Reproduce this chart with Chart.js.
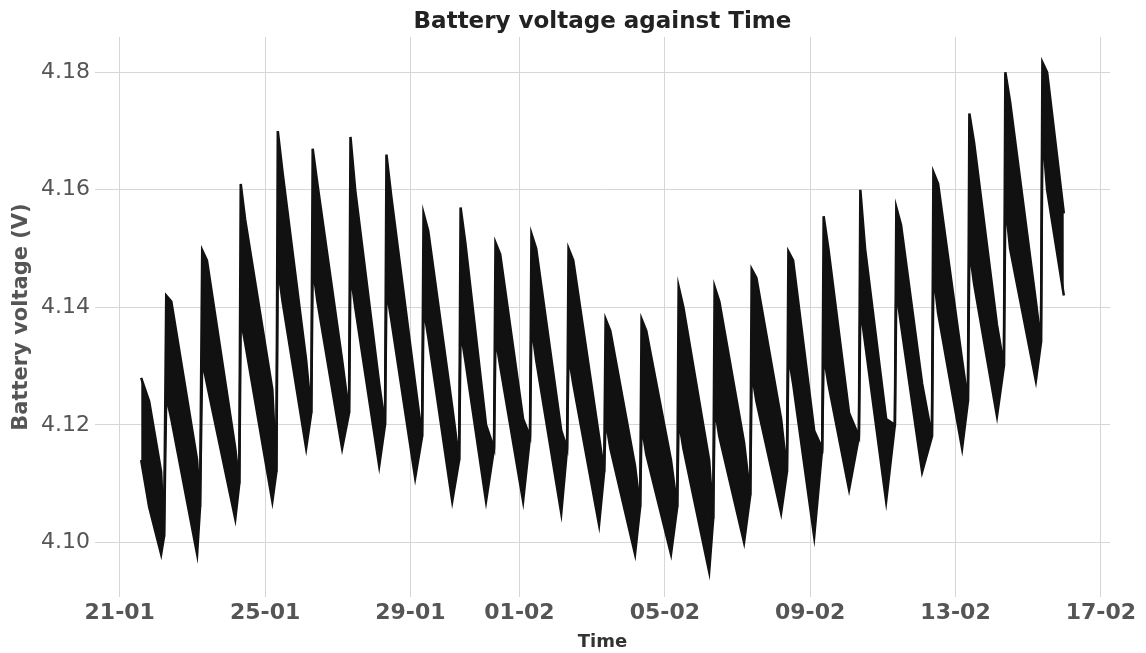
<!DOCTYPE html>
<html>
<head>
<meta charset="utf-8">
<script src="https://cdn.jsdelivr.net/npm/chart.js@4.4.0/dist/chart.umd.min.js"></script>
<style>
  html, body { margin: 0; padding: 0; background: #fff; }
</style>
</head>
<body>
<canvas id="chart" width="1146" height="653"></canvas>
<script>
// time axis in day-of-year: 21 = 21 Jan 00:00, 32 = 01 Feb 00:00
// each daily cycle: jump start, top of jump, after jump, end of decay
const times = [
    21.59, 21.81, 22.14,
    22.22, 22.28, 22.42, 23.13,
    23.21, 23.27, 23.40, 24.18,
    24.29, 24.33, 24.45, 25.20,
    25.31, 25.35, 25.48, 26.13,
    26.27, 26.31, 26.44, 27.12,
    27.31, 27.35, 27.48, 28.14,
    28.30, 28.34, 28.47, 29.13,
    29.32, 29.36, 29.49, 30.15,
    30.34, 30.38, 30.51, 31.08,
    31.30, 31.34, 31.47, 32.10,
    32.29, 32.33, 32.46, 33.15,
    33.31, 33.35, 33.48, 34.19,
    34.33, 34.37, 34.50, 35.18,
    35.32, 35.36, 35.49, 36.17,
    36.34, 36.38, 36.51, 37.22,
    37.33, 37.37, 37.50, 38.18,
    38.35, 38.39, 38.52, 39.20,
    39.36, 39.40, 39.53, 40.11,
    40.33, 40.37, 40.50, 41.07,
    41.34, 41.38, 41.51, 42.09,
    42.33, 42.37, 42.50, 43.08,
    43.35, 43.39, 43.52, 44.18,
    44.34, 44.38, 44.51, 45.14,
    45.33, 45.37, 45.50, 46.21,
    46.35, 46.39, 46.52, 46.98
];

// upper edge of the noisy voltage band (V)
const upperV = [
    4.128, 4.124, 4.112,
    4.101, 4.142, 4.141, 4.114,
    4.106, 4.1497, 4.148, 4.116,
    4.110, 4.161, 4.155, 4.126,
    4.112, 4.170, 4.163, 4.131,
    4.122, 4.167, 4.161, 4.131,
    4.122, 4.169, 4.160, 4.127,
    4.120, 4.166, 4.159, 4.127,
    4.118, 4.156, 4.153, 4.123,
    4.114, 4.157, 4.151, 4.120,
    4.116, 4.151, 4.149, 4.121,
    4.118, 4.1525, 4.150, 4.119,
    4.116, 4.150, 4.148, 4.118,
    4.112, 4.138, 4.136, 4.113,
    4.106, 4.138, 4.136, 4.114,
    4.106, 4.1435, 4.140, 4.114,
    4.104, 4.1435, 4.141, 4.117,
    4.108, 4.1465, 4.145, 4.121,
    4.112, 4.1495, 4.148, 4.119,
    4.116, 4.1555, 4.150, 4.122,
    4.118, 4.160, 4.150, 4.121,
    4.120, 4.157, 4.154, 4.127,
    4.118, 4.163, 4.161, 4.131,
    4.124, 4.173, 4.168, 4.137,
    4.130, 4.180, 4.175, 4.141,
    4.134, 4.1817, 4.180, 4.156
];

// lower edge of the band (V)
const lowerV = [
    4.114, 4.106, 4.098,
    4.101, 4.125, 4.121, 4.098,
    4.106, 4.131, 4.127, 4.104,
    4.110, 4.138, 4.134, 4.107,
    4.112, 4.147, 4.141, 4.116,
    4.122, 4.147, 4.141, 4.116,
    4.122, 4.146, 4.140, 4.113,
    4.120, 4.143, 4.138, 4.111,
    4.118, 4.140, 4.135, 4.107,
    4.114, 4.136, 4.131, 4.107,
    4.116, 4.135, 4.130, 4.107,
    4.118, 4.137, 4.131, 4.105,
    4.116, 4.132, 4.127, 4.103,
    4.112, 4.121, 4.116, 4.098,
    4.106, 4.120, 4.115, 4.098,
    4.106, 4.121, 4.116, 4.095,
    4.104, 4.123, 4.118, 4.100,
    4.108, 4.129, 4.124, 4.105,
    4.112, 4.132, 4.127, 4.101,
    4.116, 4.132, 4.127, 4.109,
    4.118, 4.140, 4.134, 4.107,
    4.120, 4.143, 4.137, 4.112,
    4.118, 4.146, 4.139, 4.116,
    4.124, 4.150, 4.144, 4.1215,
    4.130, 4.158, 4.150, 4.1275,
    4.134, 4.170, 4.160, 4.142
];

const tickDays = [21, 25, 29, 32, 36, 40, 44, 48];
const tickLabels = ['21-01', '25-01', '29-01', '01-02', '05-02', '09-02', '13-02', '17-02'];
const voltTicks = [4.10, 4.12, 4.14, 4.16, 4.18];

const FONT = 'DejaVu Sans';
const black = '#111';

const upperPts = times.map((t, i) => ({ x: t, y: upperV[i] }));
const lowerPts = times.map((t, i) => ({ x: t, y: lowerV[i] }));

const ctx = document.getElementById('chart').getContext('2d');
const myChart = new Chart(ctx, {
    type: 'line',
    data: {
        datasets: [{
            label: 'upper',
            data: upperPts,
            borderColor: black,
            borderWidth: 2.5,
            fill: false
        }, {
            label: 'Battery voltage',
            data: lowerPts,
            borderColor: black,
            borderWidth: 2.5,
            backgroundColor: black,
            fill: '-1'
        }]
    },
    options: {
        responsive: false,
        animation: false,
        layout: { padding: { left: 0, right: 36, top: 0, bottom: 0 } },
        elements: { point: { radius: 0 }, line: { tension: 0 } },
        plugins: {
            legend: { display: false },
            tooltip: { enabled: false },
            title: {
                display: true,
                fullSize: false,
                text: 'Battery voltage against Time',
                color: '#222',
                font: { family: FONT, size: 23, weight: 'bold' },
                padding: { top: 8, bottom: 1.4 }
            }
        },
        scales: {
            x: {
                type: 'linear',
                min: 20.32,
                max: 48.25,
                afterBuildTicks: (scale) => {
                    scale.ticks = tickDays.map(v => ({ value: v }));
                },
                afterFit: (scale) => { scale.height = 56; },
                ticks: {
                    autoSkip: false,
                    maxRotation: 0,
                    padding: 3,
                    color: '#555',
                    font: { family: FONT, size: 22, weight: 'bold' },
                    callback: (value) => tickLabels[tickDays.indexOf(value)]
                },
                grid: { color: '#d6d6d6', drawTicks: false },
                border: { display: false },
                title: {
                    display: true,
                    text: 'Time',
                    color: '#333',
                    font: { family: FONT, size: 18, weight: 'bold' },
                    padding: { top: 0, bottom: 0 }
                }
            },
            y: {
                min: 4.0907,
                max: 4.186,
                afterBuildTicks: (scale) => {
                    scale.ticks = voltTicks.map(v => ({ value: v }));
                },
                afterFit: (scale) => { scale.width = 95; },
                ticks: {
                    padding: 5,
                    color: '#555',
                    font: { family: FONT, size: 22 },
                    callback: (value) => value.toFixed(2)
                },
                grid: { color: '#d6d6d6', drawTicks: false },
                border: { display: false },
                title: {
                    display: true,
                    text: 'Battery voltage (V)',
                    color: '#555',
                    font: { family: FONT, size: 21, weight: 'bold' },
                    padding: { top: 9, bottom: 0 }
                }
            }
        }
    }
});
</script>
</body>
</html>
